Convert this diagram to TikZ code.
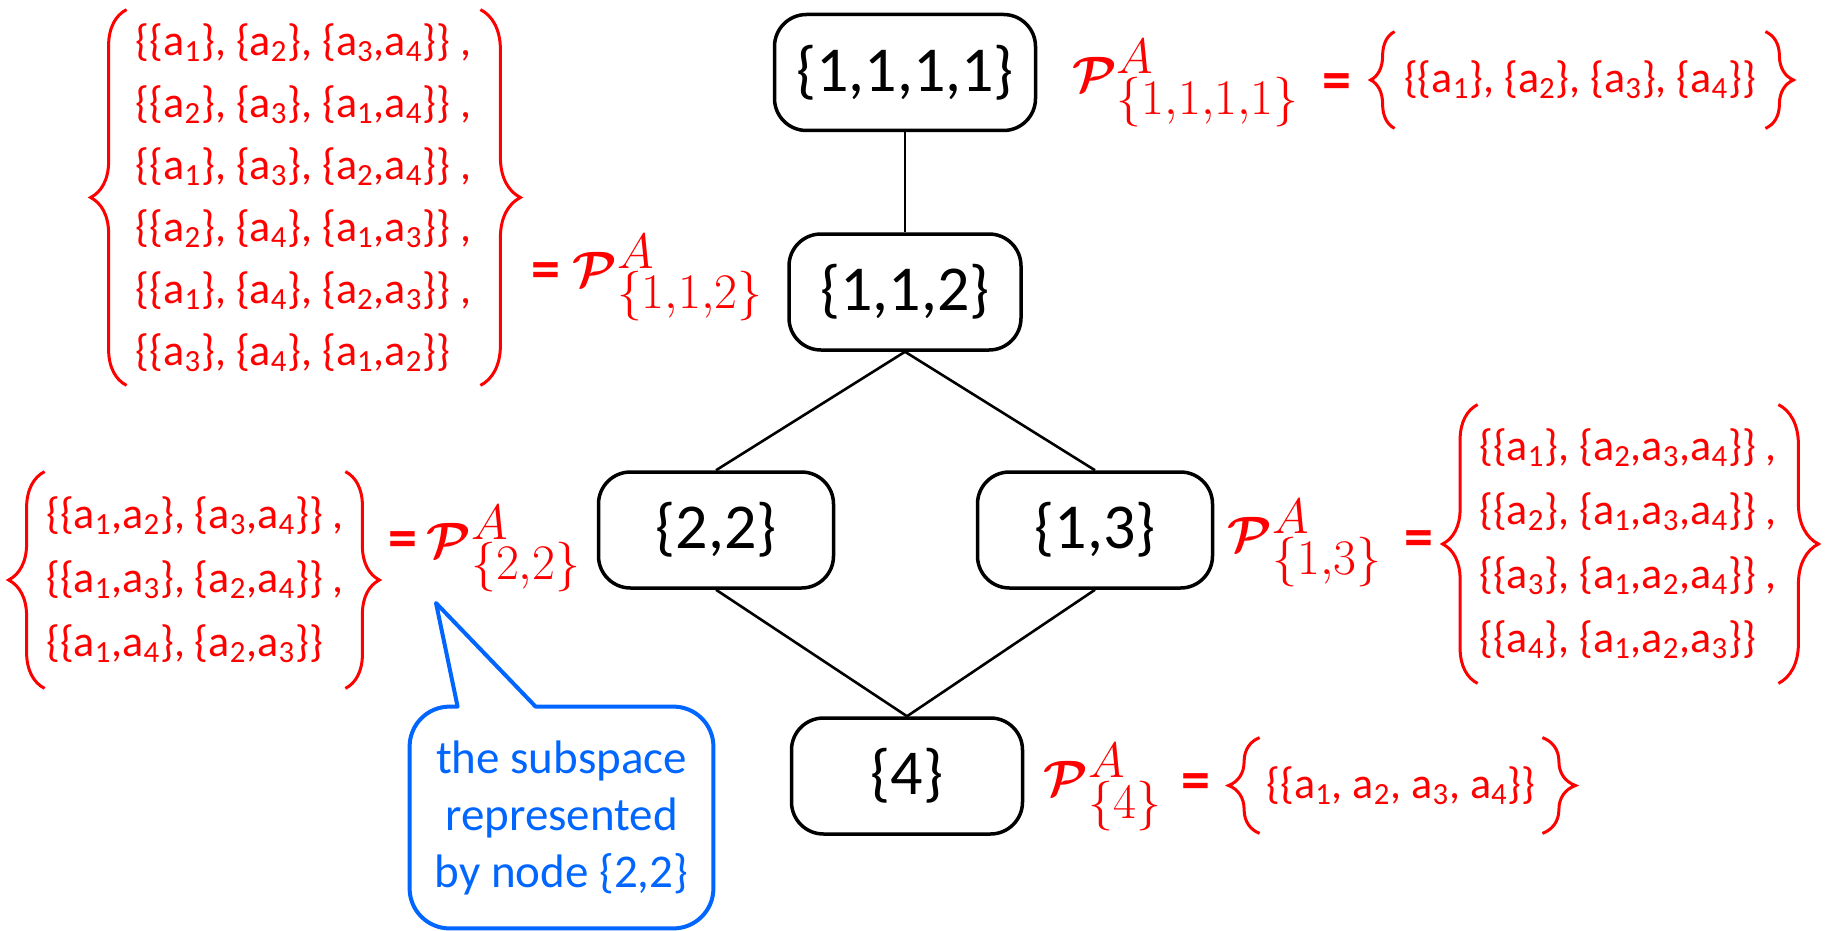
\documentclass[tikz,border=0pt]{standalone}
\usepackage[no-math]{fontspec}
\setmainfont{Carlito}
\usepackage{bm}
\usepackage{tikz}
\usetikzlibrary{positioning}
\usetikzlibrary{calc}
\usetikzlibrary{decorations.pathreplacing}
\DeclareMathSizes{34}{34}{27}{20}
\definecolor{callblue}{RGB}{0,102,255}
\newcommand{\ael}[1]{a\textsubscript{#1}}
\newcommand{\pspace}[1]{$\bm{\mathcal{P}}^A_{\{#1\}}$}

\begin{document}
\begin{tikzpicture}[
		x=0.5pt, y=-0.5pt,
		setnode/.style={rectangle, rounded corners=16pt, draw, line width=1.75pt, minimum width=116pt, minimum height=58pt, inner sep=0pt, font=\fontsize{32}{38}\selectfont},
		lattice/.style={line width=1.3pt},
		setlist/.style={text=red, inner sep=0pt, align=left, font=\fontsize{22}{32}\selectfont},
		peq/.style={text=red, inner sep=0pt, font=\fontsize{34}{40}\selectfont},
		eqsign/.style={text=red, inner sep=0pt, font=\bfseries\fontsize{29}{32}\selectfont},
		setbrace/.style={red, line width=1.5pt, decorate, decoration={brace, amplitude=#1}},
		setbrace/.default=18pt,
		noteline/.style={draw=callblue, line width=2pt, line join=round}
	]
	\useasboundingbox (0,0) rectangle (1825,931);

	% lattice of integer partitions
	\node[setnode, minimum width=130.5pt] (s1111) at (905,72.5) {\{1,1,1,1\}};
	\node[setnode] (s112) at (905,292) {\{1,1,2\}};
	\node[setnode, minimum width=117.5pt] (s22) at (716,530) {\{2,2\}};
	\node[setnode, minimum width=117.5pt] (s13) at (1095,530) {\{1,3\}};
	\node[setnode, minimum width=115.5pt] (s4) at (907,776) {\{4\}};

	\draw[lattice] (s1111) -- (s112);
	\draw[lattice] (s112.south) -- (s22.north);
	\draw[lattice] (s112.south) -- (s13.north);
	\draw[lattice] (s22.south) -- (s4.north);
	\draw[lattice] (s13.south) -- (s4.north);

	% set partitions of each node
	\node[setlist, minimum width=185pt, minimum height=48pt] (l1111) at (1580,80)
		{\{\{\ael1\}, \{\ael2\}, \{\ael3\}, \{\ael4\}\}};
	\node[setlist, minimum width=176.5pt, minimum height=187.5pt, font=\fontsize{22}{31}\selectfont] (l112) at (303.5,197.5)
		{\{\{\ael1\}, \{\ael2\}, \{\ael3,\ael4\}\} ,\\
		 \{\{\ael2\}, \{\ael3\}, \{\ael1,\ael4\}\} ,\\
		 \{\{\ael1\}, \{\ael3\}, \{\ael2,\ael4\}\} ,\\
		 \{\{\ael2\}, \{\ael4\}, \{\ael1,\ael3\}\} ,\\
		 \{\{\ael1\}, \{\ael4\}, \{\ael2,\ael3\}\} ,\\
		 \{\{\ael3\}, \{\ael4\}, \{\ael1,\ael2\}\}};
	\node[setlist, minimum width=150pt, minimum height=108pt] (l22) at (195,580)
		{\{\{\ael1,\ael2\}, \{\ael3,\ael4\}\} ,\\
		 \{\{\ael1,\ael3\}, \{\ael2,\ael4\}\} ,\\
		 \{\{\ael1,\ael4\}, \{\ael2,\ael3\}\}};
	\node[setlist, minimum width=150pt, minimum height=139pt] (l13) at (1628,544)
		{\{\{\ael1\}, \{\ael2,\ael3,\ael4\}\} ,\\
		 \{\{\ael2\}, \{\ael1,\ael3,\ael4\}\} ,\\
		 \{\{\ael3\}, \{\ael1,\ael2,\ael4\}\} ,\\
		 \{\{\ael4\}, \{\ael1,\ael2,\ael3\}\}};
	\node[setlist, minimum width=141pt, minimum height=47.5pt] (l4) at (1401,785.5)
		{\{\{\ael1, \ael2, \ael3, \ael4\}\}};

	\draw[setbrace=12pt] (l1111.south west) -- (l1111.north west);
	\draw[setbrace=14pt] (l1111.north east) -- (l1111.south east);
	\draw[setbrace] (l112.south west) -- (l112.north west);
	\draw[setbrace=20pt] (l112.north east) -- (l112.south east);
	\draw[setbrace] (l22.south west) -- (l22.north west);
	\draw[setbrace=17pt] (l22.north east) -- (l22.south east);
	\draw[setbrace=17.5pt] (l13.south west) -- (l13.north west);
	\draw[setbrace=20pt] (l13.north east) -- (l13.south east);
	\draw[setbrace=15.5pt] (l4.south west) -- (l4.north west);
	\draw[setbrace=16.5pt] (l4.north east) -- (l4.south east);

	% names of the subspaces
	\node[peq] (p1111) at (1186,83) {\pspace{1,1,1,1}};
	\node[eqsign] (e1111) at (1337,87) {=};
	\node[eqsign] (e112) at (546,276) {=};
	\node[peq] (p112) at (668,277.5) {\pspace{1,1,2}};
	\node[eqsign] (e22) at (403,545) {=};
	\node[peq] (p22) at (504,548.5) {\pspace{2,2}};
	\node[peq] (p13) at (1305,543) {\pspace{1,3}};
	\node[eqsign] (e13) at (1419,544) {=};
	\node[peq] (p4) at (1103,787) {\pspace{4}};
	\node[eqsign] (e4) at (1196,787) {=};

	% callout
	\node[text=callblue, inner sep=0pt, align=center, minimum width=151.5pt, minimum height=110.5pt, font=\fontsize{23.5}{28.5}\selectfont] (note) at (561.5,817.5)
		{the subspace\\represented\\by node \{2,2\}};
	\coordinate (tip) at (436,603);
	\coordinate (b1) at ($(note.north west)+(48,0)$);
	\coordinate (b2) at ($(note.north west)+(126,0)$);
	\draw[noteline] (tip) -- (b2) [rounded corners=20pt] -- (note.north east) -- (note.south east) -- (note.south west) -- (note.north west) [sharp corners] -- (b1) -- cycle;

\end{tikzpicture}
\end{document}
